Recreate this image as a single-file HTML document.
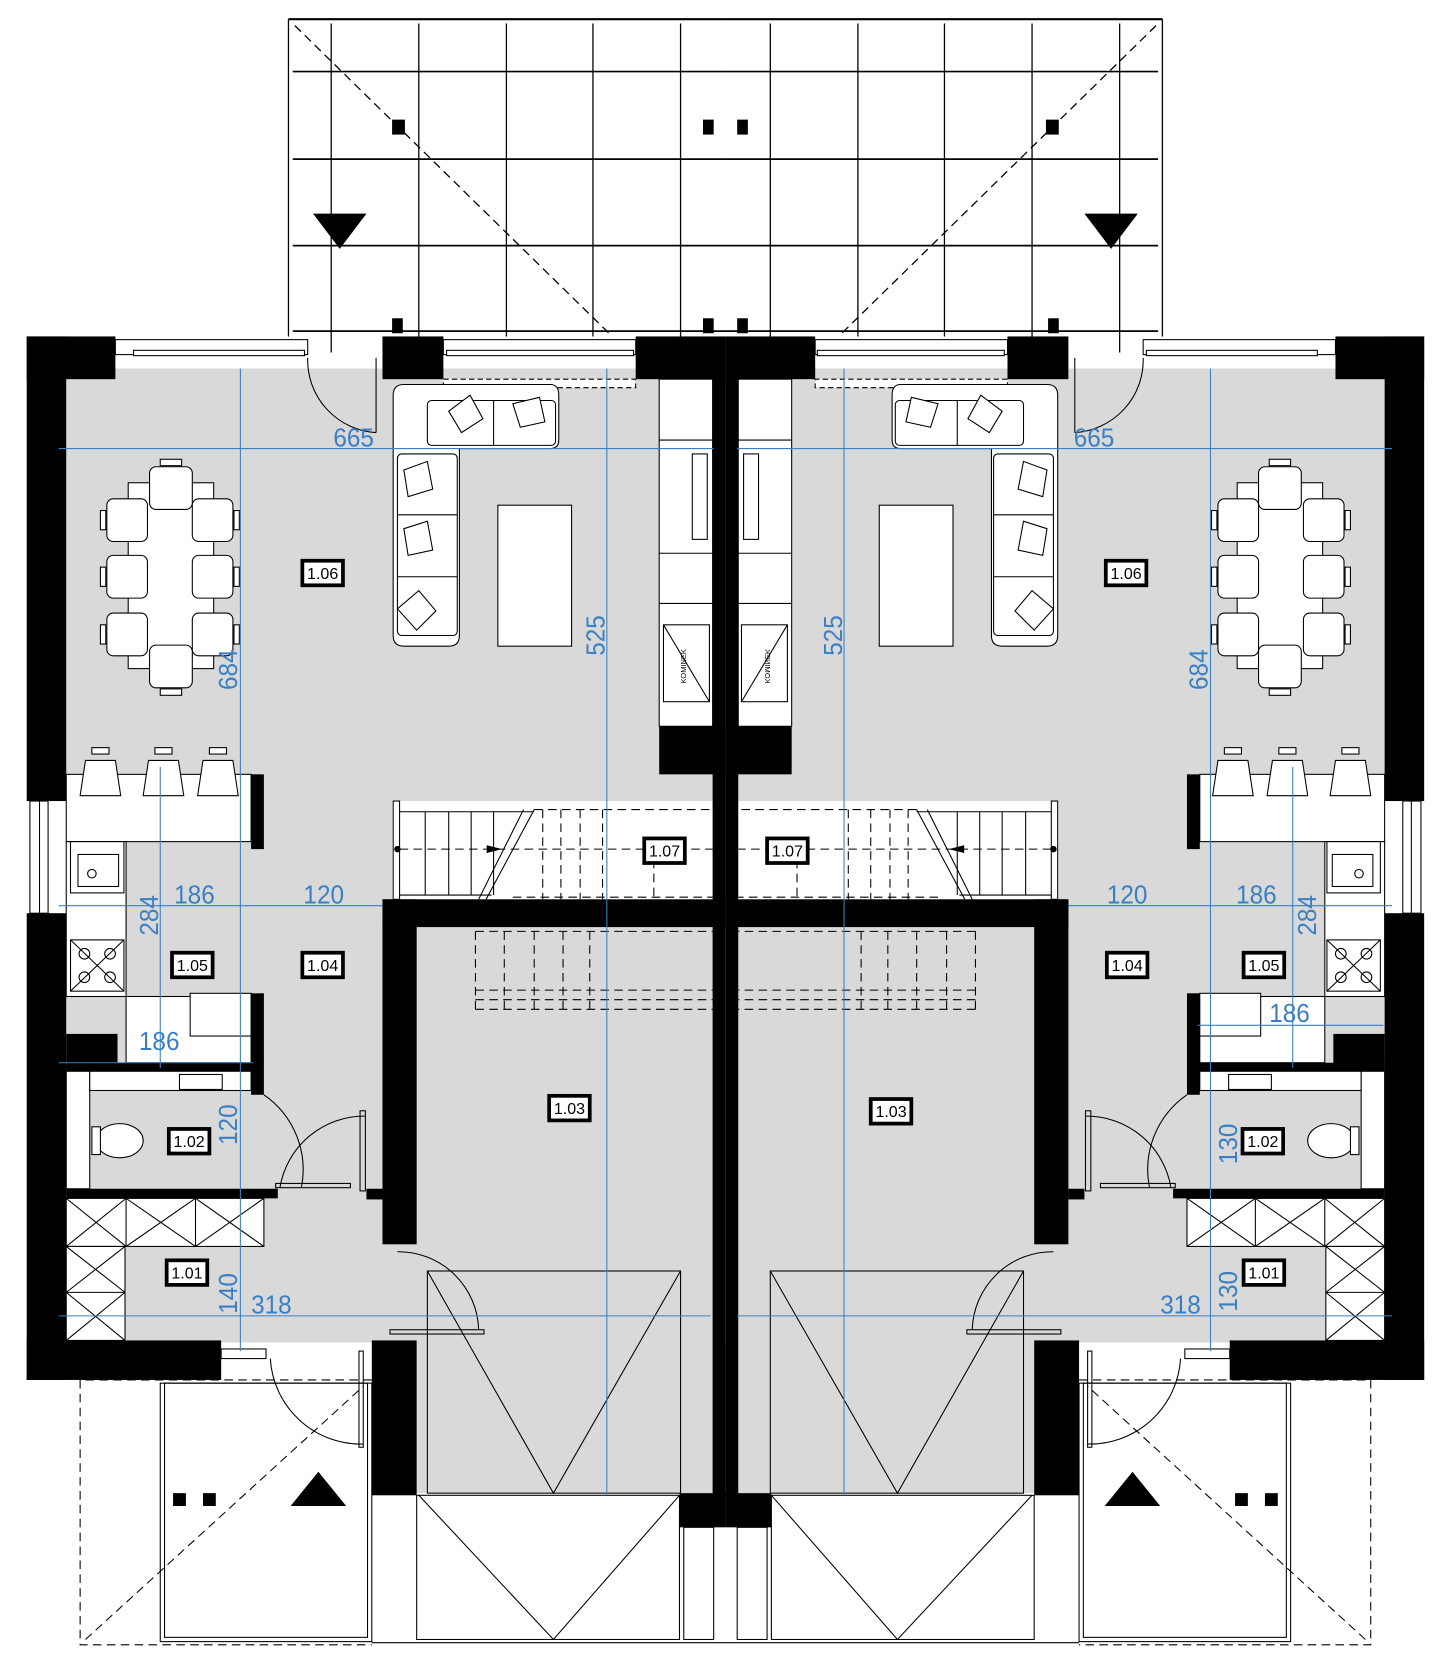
<!DOCTYPE html>
<html><head><meta charset="utf-8"><style>
html,body{margin:0;padding:0;background:#fff}
svg{display:block}
text{font-family:"Liberation Sans",sans-serif}
</style></head><body>
<svg width="1453" height="1679" viewBox="0 0 1360 1572" preserveAspectRatio="none" xmlns="http://www.w3.org/2000/svg">
<defs>
<g id="half">
  <!-- terrace -->
  <g stroke="#000" stroke-width="1.2" fill="none">
    <line x1="270" y1="18" x2="679" y2="18" stroke-width="2"/>
    <line x1="270" y1="18" x2="270" y2="315"/>
    <line x1="310" y1="22" x2="310" y2="330"/>
    <line x1="392" y1="22" x2="392" y2="315"/>
    <line x1="474" y1="22" x2="474" y2="315"/>
    <line x1="555" y1="22" x2="555" y2="315"/>
    <line x1="637" y1="22" x2="637" y2="315"/>
    <line x1="274" y1="67" x2="679" y2="67" stroke-width="1.6"/>
    <line x1="274" y1="149" x2="679" y2="149" stroke-width="1.6"/>
    <line x1="274" y1="230" x2="679" y2="230" stroke-width="1.6"/>
    <line x1="274" y1="310" x2="679" y2="310" stroke-width="1.6"/>
    <line x1="276" y1="24" x2="570" y2="312" stroke-dasharray="8,5"/>
  </g>
  <rect x="367" y="112" width="12" height="14"/>
  <rect x="658" y="112" width="10" height="14"/>
  <rect x="367" y="298" width="10" height="14"/>
  <rect x="658" y="298" width="10" height="14"/>
  <polygon points="293,200 343,200 318,233"/>

  <!-- floor -->
  <rect x="62" y="345" width="617" height="912" fill="#d9d9d9"/>
  <rect x="390" y="868" width="289" height="530" fill="#d9d9d9"/>
  <!-- top windows -->
  <g fill="#fff" stroke="#000" stroke-width="1">
    <rect x="108" y="318" width="180" height="14"/>
    <rect x="415" y="318" width="180" height="14"/>
    <rect x="125" y="328" width="160" height="5"/>
    <rect x="418" y="328" width="175" height="5"/>
    <rect x="415" y="355" width="180" height="8" stroke-dasharray="5,3"/>
  </g>
  <!-- door top -->
  <path d="M288 335 A68 68 0 0 0 352 405" fill="none" stroke="#000"/>
  <line x1="352" y1="335" x2="352" y2="405" stroke="#000"/>
  <!-- fireplace cabinets -->
  <g fill="#fff" stroke="#000" stroke-width="1">
    <rect x="617" y="355" width="50" height="325"/>
    <line x1="617" y1="412" x2="667" y2="412"/>
    <line x1="617" y1="518" x2="667" y2="518"/>
    <line x1="617" y1="565" x2="667" y2="565"/>
    <rect x="648" y="425" width="14" height="80"/>
    <rect x="621" y="585" width="43" height="72"/>
    <line x1="621" y1="585" x2="664" y2="657"/>
  </g>
  <text x="0" y="0" font-size="7" transform="translate(642,640) rotate(-90)">KOMINEK</text>
  <!-- stairs -->
  <g fill="#fff" stroke="#000" stroke-width="1">
    <rect x="367" y="750" width="300" height="92" stroke="none"/>
    <rect x="368" y="750" width="6" height="92"/>
    <line x1="374" y1="760" x2="500" y2="760"/>
    <line x1="374" y1="838" x2="460" y2="838"/>
    <line x1="398" y1="760" x2="398" y2="838"/>
    <line x1="420" y1="760" x2="420" y2="838"/>
    <line x1="441" y1="760" x2="441" y2="838"/>
    <line x1="462" y1="760" x2="462" y2="838"/>
    <line x1="500" y1="758" x2="455" y2="842"/>
    <line x1="490" y1="758" x2="448" y2="842"/>
    <g stroke-dasharray="8,5">
      <line x1="500" y1="758" x2="667" y2="758"/>
      <line x1="480" y1="840" x2="667" y2="840"/>
      <line x1="374" y1="795" x2="667" y2="795"/>
      <line x1="508" y1="758" x2="508" y2="842"/>
      <line x1="525" y1="758" x2="525" y2="842"/>
      <line x1="543" y1="758" x2="543" y2="842"/>
      <line x1="564" y1="758" x2="564" y2="842"/>
      <line x1="612" y1="805" x2="612" y2="842"/>
      <line x1="445" y1="872" x2="679" y2="872"/>
      <line x1="445" y1="872" x2="445" y2="945"/>
      <line x1="472" y1="872" x2="472" y2="945"/>
      <line x1="500" y1="872" x2="500" y2="945"/>
      <line x1="527" y1="872" x2="527" y2="945"/>
      <line x1="552" y1="872" x2="552" y2="945"/>
      <line x1="445" y1="927" x2="679" y2="927"/>
      <line x1="445" y1="936" x2="679" y2="936"/>
      <line x1="445" y1="945" x2="679" y2="945"/>
    </g>
    <circle cx="372" cy="795" r="2.5" fill="#000"/>
    <polygon points="456,792 468,795 456,798" fill="#000"/>
  </g>
  <!-- kitchen -->
  <g fill="#fff" stroke="#000" stroke-width="1">
    <rect x="62" y="725" width="173" height="63"/>
    <rect x="62" y="788" width="56" height="145"/>
    <rect x="66" y="788" width="50" height="48"/>
    <rect x="73" y="800" width="38" height="30"/>
    <circle cx="86" cy="818" r="4"/>
    <rect x="66" y="880" width="50" height="48"/>
    <circle cx="79" cy="893" r="5"/><circle cx="103" cy="893" r="5"/>
    <circle cx="79" cy="915" r="5"/><circle cx="103" cy="915" r="5"/>
    <line x1="66" y1="880" x2="116" y2="928"/><line x1="116" y1="880" x2="66" y2="928"/>
    <rect x="118" y="933" width="117" height="62"/>
    <rect x="178" y="930" width="57" height="40"/>
    <rect x="28" y="750" width="17" height="105"/>
    <line x1="37" y1="750" x2="37" y2="855"/>
    <!-- stools -->
    <path d="M80 712 L108 712 L113 745 L75 745 Z"/>
    <path d="M139 712 L167 712 L172 745 L134 745 Z"/>
    <path d="M190 712 L218 712 L223 745 L185 745 Z"/>
    <rect x="86" y="700" width="16" height="6"/>
    <rect x="145" y="700" width="16" height="6"/>
    <rect x="196" y="700" width="16" height="6"/>
  </g>
  <!-- WC -->
  <g fill="#fff" stroke="#000" stroke-width="1">
    <rect x="62" y="1003" width="22" height="110"/>
    <rect x="84" y="1003" width="151" height="18"/>
    <rect x="168" y="1006" width="40" height="14"/>
    <ellipse cx="112" cy="1068" rx="22" ry="16"/>
    <rect x="86" y="1055" width="8" height="26"/>
  </g>
  <!-- wardrobes -->
  <g fill="#fff" stroke="#000" stroke-width="1">
    <rect x="62" y="1122" width="185" height="45"/>
    <line x1="118" y1="1122" x2="118" y2="1167"/>
    <line x1="183" y1="1122" x2="183" y2="1167"/>
    <line x1="62" y1="1122" x2="118" y2="1167"/><line x1="118" y1="1122" x2="62" y2="1167"/>
    <line x1="118" y1="1122" x2="183" y2="1167"/><line x1="183" y1="1122" x2="118" y2="1167"/>
    <line x1="183" y1="1122" x2="247" y2="1167"/><line x1="247" y1="1122" x2="183" y2="1167"/>
    <rect x="62" y="1167" width="55" height="88"/>
    <line x1="62" y1="1210" x2="117" y2="1210"/>
    <line x1="62" y1="1167" x2="117" y2="1210"/><line x1="117" y1="1167" x2="62" y2="1210"/>
    <line x1="62" y1="1210" x2="117" y2="1255"/><line x1="117" y1="1210" x2="62" y2="1255"/>
  </g>
  <!-- dining -->
  <g fill="#fff" stroke="#000" stroke-width="1">
    <rect x="120" y="452" width="80" height="174"/>
    <rect x="140" y="437" width="40" height="40" rx="6"/>
    <rect x="140" y="604" width="40" height="40" rx="6"/>
    <rect x="100" y="467" width="38" height="40" rx="6"/>
    <rect x="100" y="520" width="38" height="40" rx="6"/>
    <rect x="100" y="574" width="38" height="40" rx="6"/>
    <rect x="180" y="467" width="38" height="40" rx="6"/>
    <rect x="180" y="520" width="38" height="40" rx="6"/>
    <rect x="180" y="574" width="38" height="40" rx="6"/>
    <rect x="150" y="430" width="20" height="6"/><rect x="150" y="645" width="20" height="6"/>
    <rect x="94" y="478" width="5" height="18"/><rect x="94" y="531" width="5" height="18"/><rect x="94" y="585" width="5" height="18"/>
    <rect x="219" y="478" width="5" height="18"/><rect x="219" y="531" width="5" height="18"/><rect x="219" y="585" width="5" height="18"/>
  </g>
  <!-- sofa -->
  <g fill="#fff" stroke="#000" stroke-width="1">
    <path d="M378 360 L515 360 Q523 360 523 370 L523 412 Q523 420 515 420 L430 420 L430 595 Q430 605 420 605 L378 605 Q368 605 368 595 L368 370 Q368 360 378 360 Z"/>
    <rect x="400" y="375" width="120" height="42" rx="4"/>
    <rect x="372" y="425" width="56" height="170" rx="4"/>
    <line x1="372" y1="482" x2="428" y2="482"/>
    <line x1="372" y1="540" x2="428" y2="540"/>
    <line x1="462" y1="375" x2="462" y2="417"/>
    <polygon points="420,385 440,370 452,392 432,405"/>
    <polygon points="480,378 505,372 510,395 487,400"/>
    <polygon points="378,440 400,432 405,458 382,465"/>
    <polygon points="378,495 400,488 405,515 382,520"/>
    <polygon points="372,570 392,553 408,572 390,590"/>
    <rect x="466" y="473" width="69" height="132"/>
  </g>

  <!-- walls -->
  <g fill="#000">
    <rect x="25" y="315" width="83" height="40"/>
    <rect x="25" y="315" width="37" height="435"/>
    <rect x="25" y="855" width="37" height="437"/>
    <rect x="25" y="1255" width="182" height="37"/>
    <rect x="358" y="315" width="57" height="40"/>
    <rect x="595" y="315" width="84" height="40"/>
    <rect x="667" y="345" width="12" height="1055"/>
    <rect x="617" y="680" width="62" height="45"/>
    <rect x="358" y="842" width="321" height="26"/>
    <rect x="358" y="842" width="32" height="323"/>
    <rect x="348" y="1255" width="42" height="145"/>
    <rect x="636" y="1398" width="43" height="32"/>
    <rect x="235" y="725" width="12" height="70"/>
    <rect x="62" y="968" width="48" height="32"/>
    <rect x="62" y="995" width="175" height="8"/>
    <rect x="235" y="930" width="12" height="95"/>
    <rect x="62" y="1113" width="198" height="9"/>
    <rect x="343" y="1113" width="15" height="10"/>
  </g>
  <!-- doors -->
  <g fill="none" stroke="#000" stroke-width="1">
    <path d="M247 1025 A85 85 0 0 1 282 1112"/>
    <rect x="258" y="1108" width="70" height="4"/>
    <path d="M262 1112 A80 80 0 0 1 342 1045"/>
    <rect x="337" y="1040" width="5" height="75"/>
    <path d="M372 1172 A75 75 0 0 1 448 1245"/>
    <rect x="365" y="1245" width="88" height="4"/>
    <rect x="207" y="1263" width="42" height="9" fill="#fff"/>
    <path d="M253 1272 A85 85 0 0 0 340 1352"/>
    <rect x="336" y="1265" width="4" height="90"/>
  </g>
  <!-- garage door -->
  <g fill="none" stroke="#000" stroke-width="1">
    <rect x="400" y="1190" width="237" height="208"/>
    <polyline points="400,1190 518,1398 637,1190"/>
    <rect x="390" y="1400" width="246" height="135"/>
    <polyline points="392,1400 518,1535 636,1400"/>
    <rect x="640" y="1430" width="28" height="105"/>
    <line x1="348" y1="1538" x2="679" y2="1538"/>
    <rect x="150" y="1295" width="198" height="242"/>
    <rect x="154" y="1295" width="190" height="238"/>
    <polyline points="348,1292 75,1292 75,1540 348,1540" stroke-dasharray="8,5"/>
    <line x1="80" y1="1535" x2="340" y2="1298" stroke-dasharray="8,5"/>
  </g>
  <rect x="162" y="1398" width="12" height="12"/>
  <rect x="190" y="1398" width="12" height="12"/>
  <polygon points="272,1410 324,1410 298,1378"/>
</g>
</defs>

<use href="#half"/>
<use href="#half" transform="translate(1358,0) scale(-1,1)"/>

<!-- dimension lines -->
<g stroke="#3a7fc4" stroke-width="1" fill="none">
  <line x1="55" y1="420" x2="668" y2="420"/>
  <line x1="690" y1="420" x2="1303" y2="420"/>
  <line x1="225" y1="345" x2="225" y2="1265"/>
  <line x1="1133" y1="345" x2="1133" y2="1265"/>
  <line x1="568" y1="345" x2="568" y2="1400"/>
  <line x1="790" y1="345" x2="790" y2="1400"/>
  <line x1="55" y1="848" x2="358" y2="848"/>
  <line x1="1000" y1="848" x2="1303" y2="848"/>
  <line x1="150" y1="718" x2="150" y2="1000"/>
  <line x1="1210" y1="718" x2="1210" y2="1000"/>
  <line x1="55" y1="995" x2="237" y2="995"/>
  <line x1="1121" y1="960" x2="1295" y2="960"/>
  <line x1="55" y1="1232" x2="665" y2="1232"/>
  <line x1="690" y1="1232" x2="1303" y2="1232"/>
</g>
<g fill="#3a7fc4" font-size="24">
  <text x="312" y="418" textLength="38" lengthAdjust="spacingAndGlyphs">665</text>
  <text x="1005" y="418" textLength="38" lengthAdjust="spacingAndGlyphs">665</text>
  <text transform="translate(222,646) rotate(-90)" textLength="38" lengthAdjust="spacingAndGlyphs">684</text>
  <text transform="translate(1130,646) rotate(-90)" textLength="38" lengthAdjust="spacingAndGlyphs">684</text>
  <text transform="translate(566,614) rotate(-90)" textLength="38" lengthAdjust="spacingAndGlyphs">525</text>
  <text transform="translate(788,614) rotate(-90)" textLength="38" lengthAdjust="spacingAndGlyphs">525</text>
  <text x="163" y="846" textLength="38" lengthAdjust="spacingAndGlyphs">186</text>
  <text x="284" y="846" textLength="38" lengthAdjust="spacingAndGlyphs">120</text>
  <text x="1036" y="846" textLength="38" lengthAdjust="spacingAndGlyphs">120</text>
  <text x="1157" y="846" textLength="38" lengthAdjust="spacingAndGlyphs">186</text>
  <text transform="translate(148,876) rotate(-90)" textLength="38" lengthAdjust="spacingAndGlyphs">284</text>
  <text transform="translate(1232,876) rotate(-90)" textLength="38" lengthAdjust="spacingAndGlyphs">284</text>
  <text x="130" y="983" textLength="38" lengthAdjust="spacingAndGlyphs">186</text>
  <text x="1188" y="957" textLength="38" lengthAdjust="spacingAndGlyphs">186</text>
  <text transform="translate(222,1072) rotate(-90)" textLength="38" lengthAdjust="spacingAndGlyphs">120</text>
  <text transform="translate(1158,1090) rotate(-90)" textLength="38" lengthAdjust="spacingAndGlyphs">130</text>
  <text transform="translate(222,1230) rotate(-90)" textLength="38" lengthAdjust="spacingAndGlyphs">140</text>
  <text transform="translate(1158,1228) rotate(-90)" textLength="38" lengthAdjust="spacingAndGlyphs">130</text>
  <text x="235" y="1230" textLength="38" lengthAdjust="spacingAndGlyphs">318</text>
  <text x="1086" y="1230" textLength="38" lengthAdjust="spacingAndGlyphs">318</text>
</g>

<!-- room labels -->
<g font-size="15" text-anchor="middle">
  <g fill="#fff" stroke="#000" stroke-width="3.5">
    <rect x="283" y="525" width="38" height="23"/>
    <rect x="1035" y="525" width="38" height="23"/>
    <rect x="603" y="785" width="38" height="23"/>
    <rect x="718" y="785" width="38" height="23"/>
    <rect x="161" y="892" width="38" height="23"/>
    <rect x="283" y="892" width="38" height="23"/>
    <rect x="1036" y="892" width="38" height="23"/>
    <rect x="1164" y="892" width="38" height="23"/>
    <rect x="514" y="1026" width="38" height="23"/>
    <rect x="815" y="1029" width="38" height="23"/>
    <rect x="158" y="1057" width="38" height="23"/>
    <rect x="1163" y="1057" width="38" height="23"/>
    <rect x="156" y="1180" width="38" height="23"/>
    <rect x="1164" y="1180" width="38" height="23"/>
  </g>
  <text x="302" y="542">1.06</text>
  <text x="1054" y="542">1.06</text>
  <text x="622" y="802">1.07</text>
  <text x="737" y="802">1.07</text>
  <text x="180" y="909">1.05</text>
  <text x="302" y="909">1.04</text>
  <text x="1055" y="909">1.04</text>
  <text x="1183" y="909">1.05</text>
  <text x="533" y="1043">1.03</text>
  <text x="834" y="1046">1.03</text>
  <text x="177" y="1074">1.02</text>
  <text x="1182" y="1074">1.02</text>
  <text x="175" y="1197">1.01</text>
  <text x="1183" y="1197">1.01</text>
</g>
</svg>
</body></html>
